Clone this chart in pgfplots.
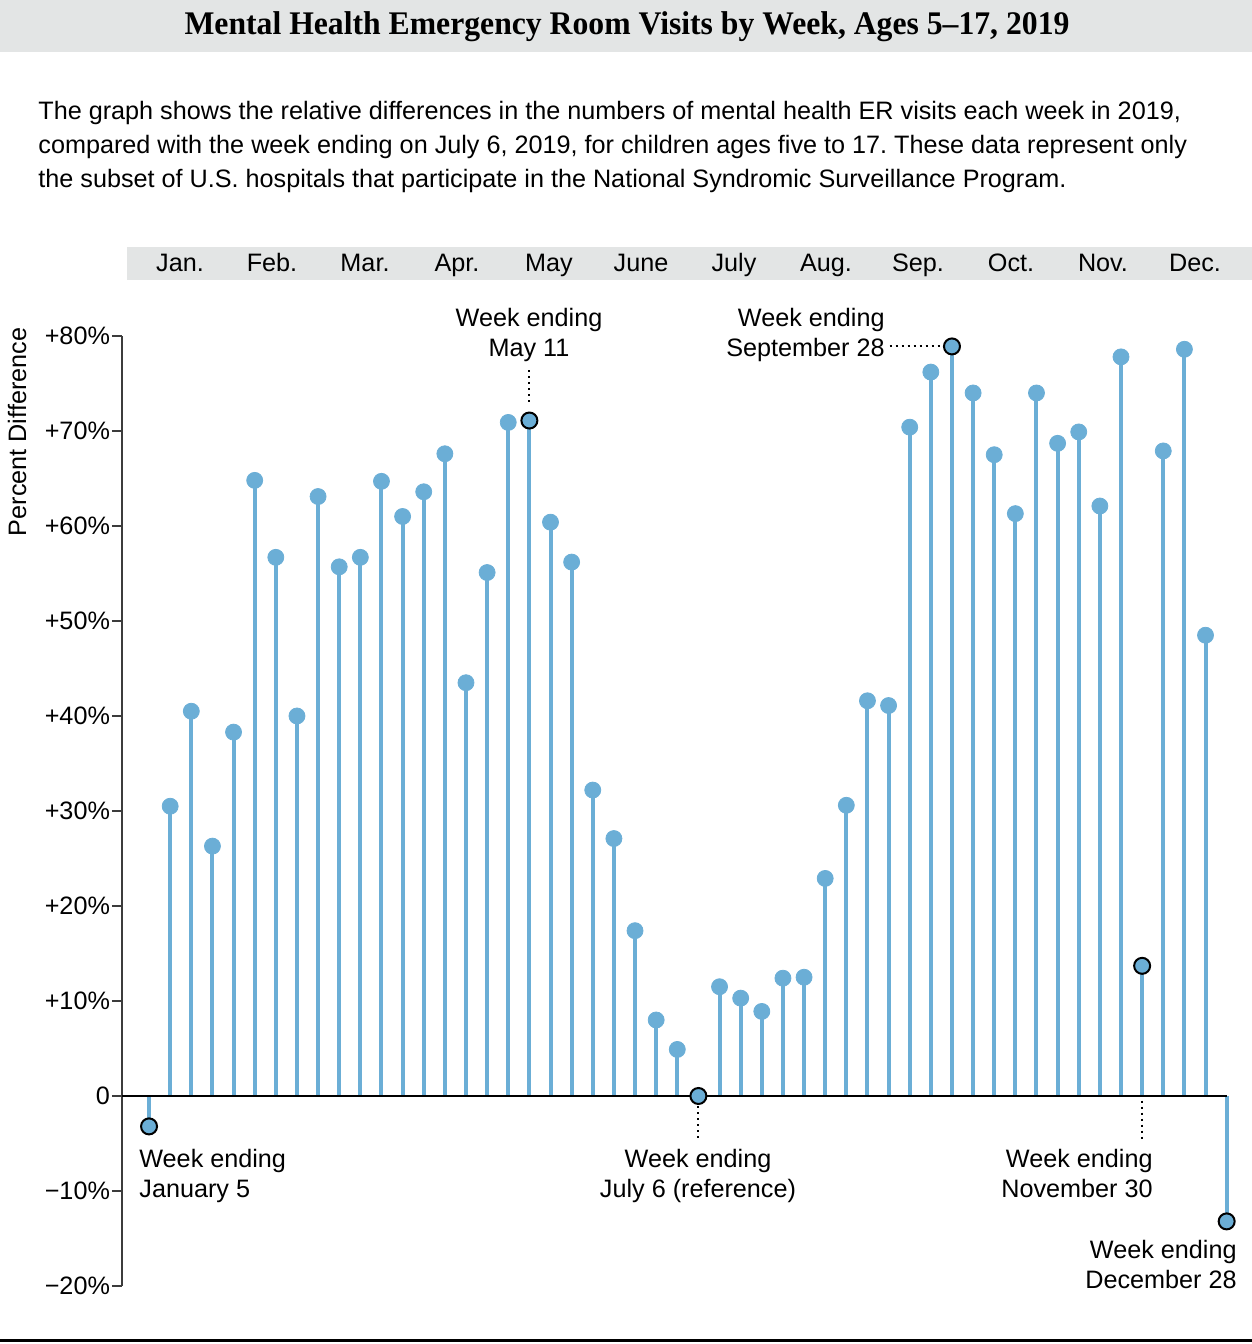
\documentclass[border=0pt]{standalone}
\usepackage{graphicx}
\usepackage{pgfplots}
\pgfplotsset{compat=1.18}
\usepackage{pgfplotstable}
\usepackage{fontspec}
\setmainfont{Liberation Sans}
\newfontfamily\titlefont{Liberation Serif}
\frenchspacing

\definecolor{stem}{RGB}{107,174,214}
\definecolor{band}{RGB}{227,229,229}
\definecolor{axisgray}{RGB}{60,60,60}
\newcommand\txt{\fontsize{12.6}{15}\selectfont}

% week of 2019, % difference vs. week ending July 6, highlighted (h) or not (n)
\pgfplotstableread{
week pct hl
1  -3.2 h
2  30.5 n
3  40.5 n
4  26.3 n
5  38.3 n
6  64.8 n
7  56.7 n
8  40.0 n
9  63.1 n
10 55.7 n
11 56.7 n
12 64.7 n
13 61.0 n
14 63.6 n
15 67.6 n
16 43.5 n
17 55.1 n
18 70.9 n
19 71.1 h
20 60.4 n
21 56.2 n
22 32.2 n
23 27.1 n
24 17.4 n
25  8.0 n
26  4.9 n
27  0.0 h
28 11.5 n
29 10.3 n
30  8.9 n
31 12.4 n
32 12.5 n
33 22.9 n
34 30.6 n
35 41.6 n
36 41.1 n
37 70.4 n
38 76.2 n
39 78.9 h
40 74.0 n
41 67.5 n
42 61.3 n
43 74.0 n
44 68.7 n
45 69.9 n
46 62.1 n
47 77.8 n
48 13.7 h
49 67.9 n
50 78.6 n
51 48.5 n
52 -13.2 h
}\visits

\begin{document}
\begin{tikzpicture}
\path[use as bounding box] (0,0) rectangle (626pt,672pt);

% page furniture, in pixel units of the reference
\begin{scope}[shift={(0pt,672pt)}, x=0.5pt, y=-0.5pt]
  \fill[band] (0,0) rectangle (1252,52);
  \node[font=\titlefont\bfseries\fontsize{16.5}{19}\selectfont] at (627,27)
    {\scalebox{0.96}[1]{Mental Health Emergency Room Visits by Week, Ages 5–17, 2019}};
  \begin{scope}[every node/.style={anchor=base west, inner sep=0pt, font=\txt}]
    \node at (38,120) {The graph shows the relative differences in the numbers of mental health ER visits each week in 2019,};
    \node at (38,154) {compared with the week ending on July 6, 2019, for children ages five to 17. These data represent only};
    \node at (38,188) {the subset of U.S. hospitals that participate in the National Syndromic Surveillance Program.};
  \end{scope}
  \fill[band] (127,247) rectangle (1252,280);
  \begin{scope}[every node/.style={anchor=base, inner sep=0pt, font=\txt}]
    \node at (180,272) {Jan.};
    \node at (272,272) {Feb.};
    \node at (365,272) {Mar.};
    \node at (457,272) {Apr.};
    \node at (549,272) {May};
    \node at (641,272) {June};
    \node at (734,272) {July};
    \node at (826,272) {Aug.};
    \node at (918,272) {Sep.};
    \node at (1011,272) {Oct.};
    \node at (1103,272) {Nov.};
    \node at (1195,272) {Dec.};
  \end{scope}
  \node[rotate=90, font=\txt] at (17,432) {Percent Difference};
  \draw[black, line width=1.5pt] (0,1341) -- (1252,1341);
\end{scope}

\begin{axis}[
  at={(61pt,29pt)}, anchor=south west,
  scale only axis, width=565pt, height=475pt,
  xmin=-0.28, xmax=53.2, ymin=-20, ymax=80,
  axis x line=none, axis y line*=left,
  axis line style={axisgray, line width=1pt},
  ytick={-20,-10,...,80},
  yticklabels={−20\%,−10\%,0,+10\%,+20\%,+30\%,+40\%,+50\%,+60\%,+70\%,+80\%},
  tick align=outside, major tick length=5pt,
  tick style={axisgray, line width=1pt},
  yticklabel style={font=\txt, xshift=2.5pt},
  clip=false,
]
\addplot[ycomb, stem, line width=2pt, no marks] table[x=week, y=pct] {\visits};
\addplot[black, line width=1pt] coordinates {(-0.28,0) (52,0)};
\draw[black, line width=1pt, dash pattern=on 1pt off 2pt] (axis cs:19,76.4) -- (axis cs:19,72.8);
\draw[black, line width=1pt, dash pattern=on 1pt off 2pt] (axis cs:36.05,78.9) -- (axis cs:38.5,78.9);
\draw[black, line width=1pt, dash pattern=on 1pt off 2pt] (axis cs:27,-1.1) -- (axis cs:27,-4.6);
\draw[black, line width=1pt, dash pattern=on 1pt off 2pt] (axis cs:48,-0.5) -- (axis cs:48,-4.6);
\addplot[scatter, only marks, scatter src=explicit symbolic,
  scatter/classes={
    n={mark=*, draw=stem, fill=stem, mark size=4pt},
    h={mark=*, draw=black, fill=stem, mark size=4pt, line width=1pt}}]
  table[x=week, y=pct, meta=hl] {\visits};
\end{axis}

% annotations, in pixel units of the reference
\begin{scope}[shift={(0pt,672pt)}, x=0.5pt, y=-0.5pt,
  every node/.style={inner sep=0pt, font=\txt}]
  \node[anchor=base] at (529,327) {Week ending};
  \node[anchor=base] at (529,357) {May 11};
  \node[anchor=base east] at (885,327) {Week ending};
  \node[anchor=base east] at (885,357) {September 28};
  \node[anchor=base west] at (139,1168) {Week ending};
  \node[anchor=base west] at (139,1198) {January 5};
  \node[anchor=base] at (698,1168) {Week ending};
  \node[anchor=base] at (698,1198) {July 6 (reference)};
  \node[anchor=base east] at (1153,1168) {Week ending};
  \node[anchor=base east] at (1153,1198) {November 30};
  \node[anchor=base east] at (1237,1259) {Week ending};
  \node[anchor=base east] at (1237,1289) {December 28};
\end{scope}
\end{tikzpicture}
\end{document}
